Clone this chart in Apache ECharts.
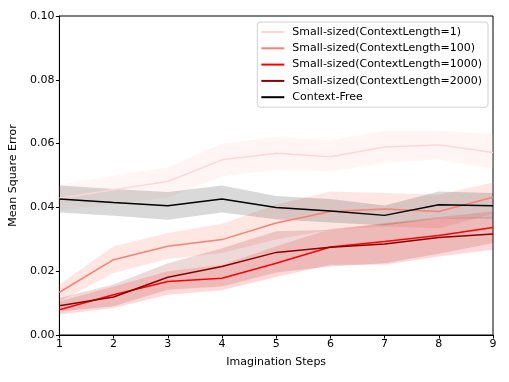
<!DOCTYPE html>
<html><head><meta charset="utf-8">
<script src="https://cdn.jsdelivr.net/npm/echarts@6/dist/echarts.min.js"></script>
<style>html,body{margin:0;padding:0;background:#fff}#c{width:509px;height:382px}</style>
</head><body><div id="c"></div>
<script>
const steps = [1,2,3,4,5,6,7,8,9];
const names = ['Small-sized(ContextLength=1)','Small-sized(ContextLength=100)','Small-sized(ContextLength=1000)','Small-sized(ContextLength=2000)','Context-Free'];
const colors = ['#ffd6d6','#fa8072','#ff0000','#8b0000','#000000'];
const bandColors = ['rgba(255,200,200,0.18)','rgba(250,128,114,0.2)','rgba(255,0,0,0.15)','rgba(139,0,0,0.15)','rgba(0,0,0,0.15)'];

const mean1 = [0.0429,0.0455,0.0481,0.0549,0.0570,0.0559,0.0589,0.0596,0.0572];
const upper1 = [0.047,0.050,0.0525,0.060,0.062,0.061,0.064,0.064,0.063];
const lower1 = [0.039,0.041,0.043,0.0497,0.0518,0.0513,0.054,0.055,0.052];

const mean100 = [0.0134,0.0236,0.0278,0.0299,0.0351,0.0387,0.0395,0.0387,0.0432];
const upper100 = [0.0158,0.0278,0.032,0.0349,0.0408,0.045,0.0445,0.044,0.0478];
const lower100 = [0.0105,0.0194,0.0238,0.0257,0.0299,0.033,0.034,0.0335,0.038];

const mean1000 = [0.0079,0.0126,0.0168,0.0178,0.0225,0.0276,0.0293,0.0312,0.0337];
const upper1000 = [0.0105,0.0152,0.020,0.022,0.0278,0.0332,0.035,0.037,0.0387];
const lower1000 = [0.0064,0.0085,0.0126,0.014,0.0182,0.022,0.022,0.0246,0.0267];

const mean2000 = [0.0092,0.0119,0.0181,0.0215,0.0259,0.0275,0.0285,0.0306,0.0317];
const upper2000 = [0.0116,0.0158,0.0225,0.0272,0.0325,0.033,0.0349,0.0366,0.037];
const lower2000 = [0.0074,0.009,0.0142,0.0152,0.0196,0.0215,0.0225,0.0255,0.0288];

const meanCF = [0.0426,0.0415,0.0405,0.0426,0.0400,0.0389,0.0375,0.0408,0.0405];
const upperCF = [0.0469,0.0458,0.0448,0.0469,0.0436,0.0426,0.0406,0.0450,0.0445];
const lowerCF = [0.0384,0.0374,0.0361,0.0384,0.0363,0.0353,0.0343,0.0365,0.0365];

const means = [mean1,mean100,mean1000,mean2000,meanCF];
const uppers = [upper1,upper100,upper1000,upper2000,upperCF];
const lowers = [lower1,lower100,lower1000,lower2000,lowerCF];

const series = [];
for (let i = 0; i < 5; i++) {
  const rows = steps.map((s,k)=>[s, lowers[i][k], uppers[i][k]]);
  series.push({
    type:'custom', name:'band_'+i, silent:true, z:1,
    coordinateSystem:'cartesian2d',
    encode:{x:0, y:[1,2]},
    data: rows,
    renderItem: function(params, api){
      if (params.dataIndex !== 0) return null;
      const up = rows.map(r=>api.coord([r[0], r[2]]));
      const lo = rows.map(r=>api.coord([r[0], r[1]])).reverse();
      return {type:'polygon', shape:{points: up.concat(lo)}, style:{fill:bandColors[i], stroke:null}};
    }
  });
}
for (let i = 0; i < 5; i++) {
  series.push({
    type:'line', name:names[i], symbol:'none', z:3,
    lineStyle:{color:colors[i], width:1.5}, itemStyle:{color:colors[i]},
    data: steps.map((s,k)=>[s, means[i][k]])
  });
}

const chart = echarts.init(document.getElementById('c'), null, {renderer:'canvas'});
chart.setOption({
  animation:false,
  textStyle:{fontFamily:'DejaVu Sans'},
  grid:{left:59, right:16, top:16, bottom:47, show:true, borderColor:'#000', borderWidth:1, backgroundColor:'transparent'},
  legend:{
    data:names, orient:'vertical', right:21, top:22,
    icon:'rect', itemWidth:23, itemHeight:2, itemGap:4.3,
    backgroundColor:'rgba(255,255,255,0.8)', borderColor:'#d0d0d0', borderWidth:1, borderRadius:3,
    padding:[4,6,4,4],
    textStyle:{fontFamily:'DejaVu Sans', fontSize:11, lineHeight:12, color:'#000', padding:[0,0,0,3]}
  },
  xAxis:{
    type:'value', min:1, max:9, interval:1,
    name:'Imagination Steps', nameLocation:'middle', nameGap:22,
    nameTextStyle:{fontFamily:'DejaVu Sans', fontSize:11, color:'#000'},
    axisLine:{show:true, lineStyle:{color:'#000', width:1}},
    axisTick:{show:true, length:3.5, lineStyle:{color:'#000'}},
    axisLabel:{fontFamily:'DejaVu Sans', fontSize:11, color:'#000', margin:4},
    splitLine:{show:false}
  },
  yAxis:{
    type:'value', min:0, max:0.1, interval:0.02,
    name:'Mean Square Error', nameLocation:'middle', nameGap:38, nameRotate:90,
    nameTextStyle:{fontFamily:'DejaVu Sans', fontSize:11, color:'#000'},
    axisLine:{show:true, lineStyle:{color:'#000', width:1}},
    axisTick:{show:true, length:3.5, lineStyle:{color:'#000'}},
    axisLabel:{fontFamily:'DejaVu Sans', fontSize:11, color:'#000', margin:5, formatter:v=>v.toFixed(2)},
    splitLine:{show:false}
  },
  series: series
});
</script></body></html>
